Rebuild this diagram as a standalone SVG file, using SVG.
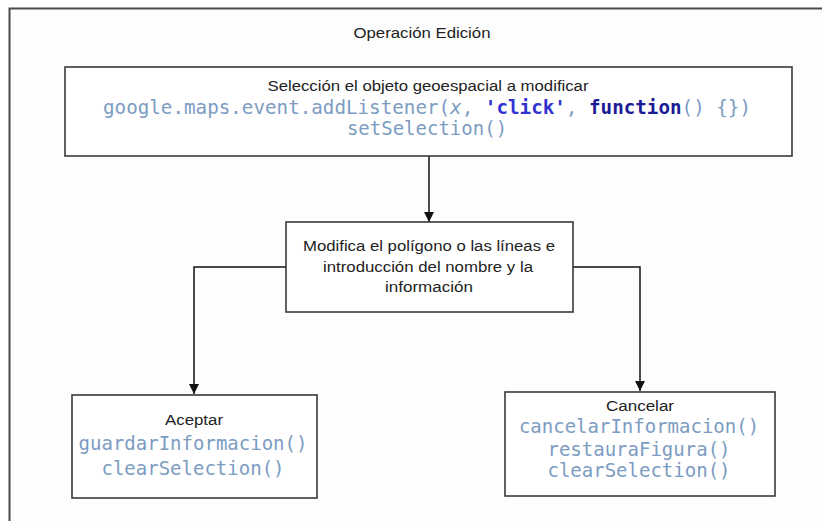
<svg xmlns="http://www.w3.org/2000/svg" width="822" height="521" viewBox="0 0 822 521">
  <style>
    .box { fill: #ffffff; stroke: #3a3a3a; stroke-width: 1.6; }
    .lbl { font-family: "Liberation Sans", Arial, sans-serif; font-size: 15.5px; fill: #222222; text-anchor: middle; }
    .code { font-family: "DejaVu Sans Mono", "Liberation Mono", monospace; font-size: 19px; fill: #7c9cc2; text-anchor: middle; }
    .str { fill: #3232d2; font-weight: bold; }
    .kw { fill: #1b1b95; font-weight: bold; }
    .conn { fill: none; stroke: #111111; stroke-width: 1.5; }
  </style>
  <defs>
    <marker id="arrow" viewBox="0 0 10 10" refX="10" refY="5" markerWidth="10" markerHeight="10" markerUnits="userSpaceOnUse" orient="auto">
      <path d="M0,0 L10,5 L0,10 z" fill="#111111"/>
    </marker>
  </defs>
  <rect x="0" y="0" width="822" height="521" fill="#ffffff"/>
  <g id="frame">
    <rect x="9.5" y="8.5" width="900" height="600" fill="#fdfdfd" stroke="#4a4a4a" stroke-width="2"/>
    <text class="lbl" x="422" y="38" textLength="137" lengthAdjust="spacingAndGlyphs">Operación Edición</text>
  </g>
  <g id="connectors">
    <path class="conn" d="M429,156 L429,222" marker-end="url(#arrow)"/>
    <path class="conn" d="M286,267 L194,267 L194,394" marker-end="url(#arrow)"/>
    <path class="conn" d="M573,267 L640,267 L640,391" marker-end="url(#arrow)"/>
  </g>
  <g id="seleccion">
    <rect class="box" x="65" y="67" width="727" height="89"/>
    <text class="lbl" x="428" y="91" textLength="321" lengthAdjust="spacingAndGlyphs">Selección el objeto geoespacial a modificar</text>
    <text class="code" x="427" y="113.5" textLength="648" lengthAdjust="spacingAndGlyphs">google.maps.event.addListener(<tspan font-style="italic">x</tspan>, <tspan class="str">'click'</tspan>, <tspan class="kw">function</tspan>() {})</text>
    <text class="code" x="427" y="134.5">setSelection()</text>
  </g>
  <g id="modifica">
    <rect class="box" x="286" y="222" width="287" height="90"/>
    <text class="lbl" x="429" y="251" textLength="252" lengthAdjust="spacingAndGlyphs">Modifica el polígono o las líneas e</text>
    <text class="lbl" x="428" y="272" textLength="210" lengthAdjust="spacingAndGlyphs">introducción del nombre y la</text>
    <text class="lbl" x="429" y="292" textLength="88" lengthAdjust="spacingAndGlyphs">información</text>
  </g>
  <g id="aceptar">
    <rect class="box" x="72" y="395" width="245" height="103"/>
    <text class="lbl" x="194" y="425" textLength="58" lengthAdjust="spacingAndGlyphs">Aceptar</text>
    <text class="code" x="193" y="450">guardarInformacion()</text>
    <text class="code" x="193" y="474.5">clearSelection()</text>
  </g>
  <g id="cancelar">
    <rect class="box" x="505" y="392" width="270" height="104"/>
    <text class="lbl" x="640" y="411" textLength="68" lengthAdjust="spacingAndGlyphs">Cancelar</text>
    <text class="code" x="639" y="433">cancelarInformacion()</text>
    <text class="code" x="639" y="455.5">restauraFigura()</text>
    <text class="code" x="639" y="477">clearSelection()</text>
  </g>
</svg>
